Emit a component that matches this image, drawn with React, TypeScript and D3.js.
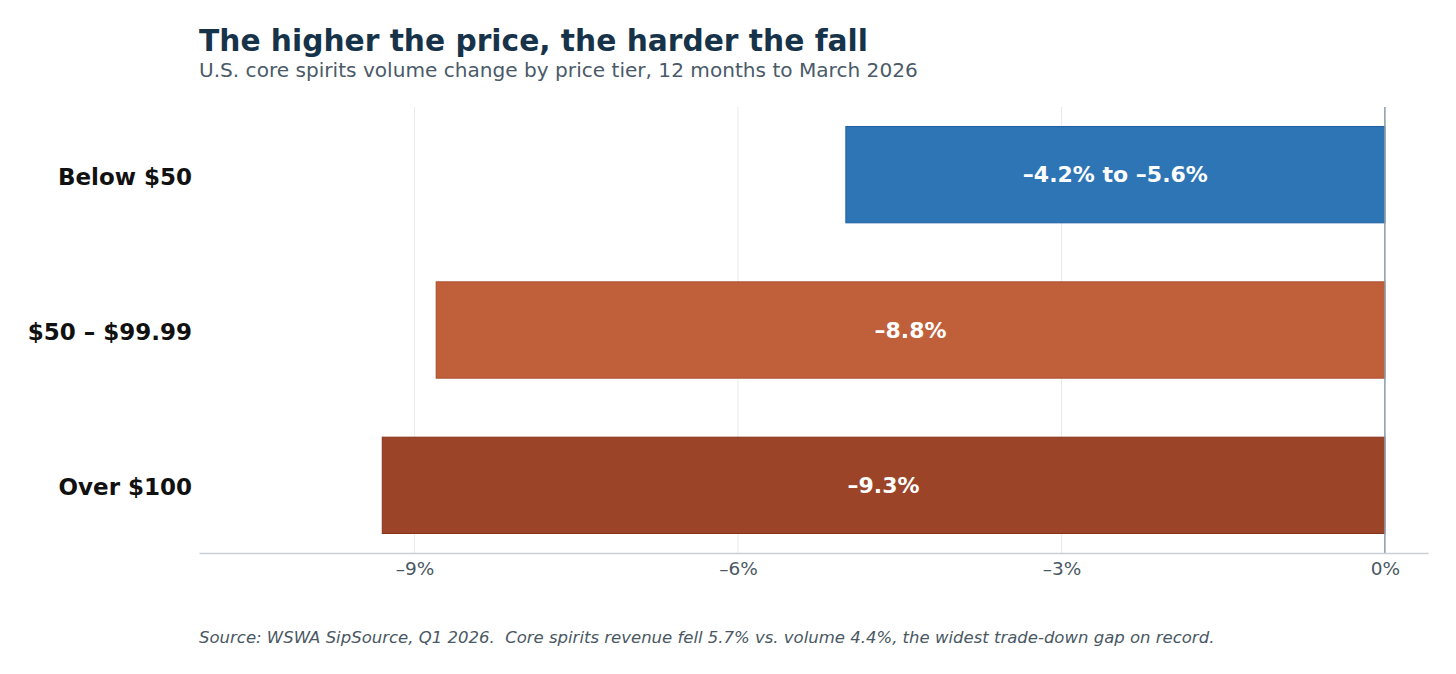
import React, { useEffect, useRef } from "react";
import * as d3 from "d3";

// Volume change by price tier, 12 months to March 2026
const tiers = ["Below $50", "$50 – $99.99", "Over $100"];
const changes = [-5.0, -8.8, -9.3];
const barLabels = ["–4.2% to –5.6%", "–8.8%", "–9.3%"];
const barColors = ["#2e75b6", "#c0603b", "#9b4428"];
const barEdges = ["#1f5fa0", "#a9492a", "#86321a"];
const ticks = [-9, -6, -3, 0];

const W = 1456;
const H = 674;
const FONT = "'DejaVu Sans', sans-serif";

const App = () => {
    const svgRef = useRef<SVGSVGElement>(null);

    useEffect(() => {
        const svg = d3.select(svgRef.current);
        svg.selectAll("*").remove();

        const plotTop = 107;
        const plotBottom = 553;

        const x = d3.scaleLinear().domain([-11, 0.4]).range([199, 1428]);
        const y = d3
            .scaleBand()
            .domain(tiers)
            .range([97, 563])
            .paddingInner(0.38)
            .paddingOuter(0.19);

        // light vertical gridlines
        svg.append("g")
            .selectAll("line")
            .data(ticks.filter((t) => t !== 0))
            .enter()
            .append("line")
            .attr("x1", (d) => x(d))
            .attr("x2", (d) => x(d))
            .attr("y1", plotTop)
            .attr("y2", plotBottom)
            .attr("stroke", "#e6ebee")
            .attr("stroke-width", 1);

        // bars
        const data = tiers.map((t, i) => ({ tier: t, value: changes[i], i }));
        svg.append("g")
            .selectAll("rect")
            .data(data)
            .enter()
            .append("rect")
            .attr("x", (d) => x(d.value))
            .attr("y", (d) => y(d.tier)!)
            .attr("width", (d) => x(0) - x(d.value))
            .attr("height", y.bandwidth())
            .attr("fill", (d) => barColors[d.i])
            .attr("stroke", (d) => barEdges[d.i])
            .attr("stroke-width", 1);

        // labels inside bars
        svg.append("g")
            .selectAll("text")
            .data(data)
            .enter()
            .append("text")
            .attr("x", (d) => (x(d.value) + x(0)) / 2)
            .attr("y", (d) => y(d.tier)! + y.bandwidth() / 2)
            .attr("dy", "0.35em")
            .attr("text-anchor", "middle")
            .attr("fill", "#ffffff")
            .attr("font-family", FONT)
            .attr("font-weight", "bold")
            .attr("font-size", 22)
            .text((d) => barLabels[d.i]);

        // zero line
        svg.append("line")
            .attr("x1", x(0))
            .attr("x2", x(0))
            .attr("y1", plotTop)
            .attr("y2", plotBottom)
            .attr("stroke", "#8a9aa6")
            .attr("stroke-width", 1.5);

        // bottom axis
        const axis = svg
            .append("g")
            .attr("transform", `translate(0,${plotBottom})`)
            .call(
                d3
                    .axisBottom(x)
                    .tickValues(ticks)
                    .tickSize(0)
                    .tickPadding(9)
                    .tickFormat((d) => `${(d as number) < 0 ? "–" + Math.abs(d as number) : d}%`)
            );
        axis.select(".domain").attr("stroke", "#c8d0d6").attr("stroke-width", 1.5);
        axis.selectAll("text")
            .attr("font-family", FONT)
            .attr("font-size", 18.5)
            .attr("fill", "#4a5863");

        // tier labels on the left
        svg.append("g")
            .selectAll("text")
            .data(tiers)
            .enter()
            .append("text")
            .attr("x", 192)
            .attr("y", (d) => y(d)! + y.bandwidth() / 2 + 2)
            .attr("dy", "0.35em")
            .attr("text-anchor", "end")
            .attr("font-family", FONT)
            .attr("font-weight", "bold")
            .attr("font-size", 23)
            .attr("fill", "#111111")
            .text((d) => d);

        // titles
        svg.append("text")
            .attr("x", 199)
            .attr("y", 51)
            .attr("font-family", FONT)
            .attr("font-weight", "bold")
            .attr("font-size", 29.7)
            .attr("fill", "#17334a")
            .text("The higher the price, the harder the fall");

        svg.append("text")
            .attr("x", 199)
            .attr("y", 77)
            .attr("font-family", FONT)
            .attr("font-size", 20.1)
            .attr("fill", "#4a5a68")
            .text("U.S. core spirits volume change by price tier, 12 months to March 2026");

        svg.append("text")
            .attr("x", 199)
            .attr("y", 643)
            .attr("font-family", FONT)
            .attr("font-style", "italic")
            .attr("font-size", 16.5)
            .attr("fill", "#4a5863")
            .attr("xml:space", "preserve")
            .style("white-space", "pre")
            .text("Source: WSWA SipSource, Q1 2026.  Core spirits revenue fell 5.7% vs. volume 4.4%, the widest trade-down gap on record.");
    }, []);

    return (
        <svg
            ref={svgRef}
            width={W}
            height={H}
            style={{ position: "absolute", left: 0, top: 0, background: "#ffffff" }}
        ></svg>
    );
};

export default App;
